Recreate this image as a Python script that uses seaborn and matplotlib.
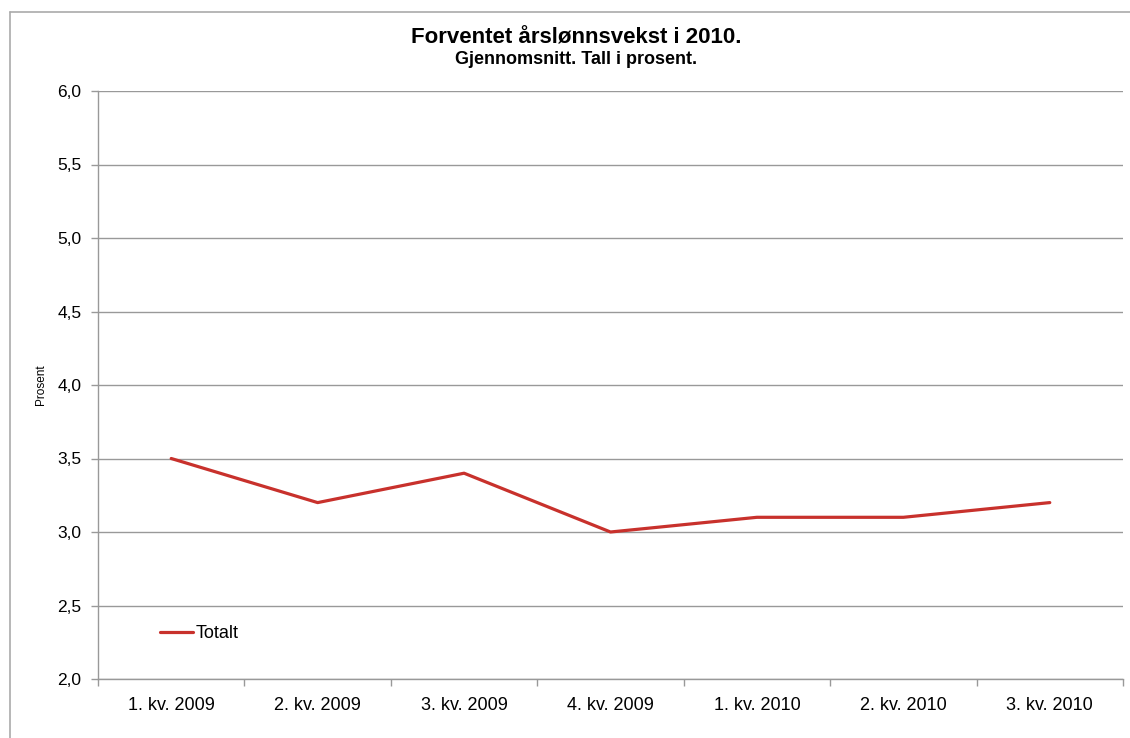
import numpy as np
import pandas as pd
import matplotlib
matplotlib.use("Agg")
import matplotlib.pyplot as plt
import seaborn as sns
from matplotlib.ticker import FixedLocator, FuncFormatter

quarters = ["1. kv. 2009", "2. kv. 2009", "3. kv. 2009", "4. kv. 2009",
            "1. kv. 2010", "2. kv. 2010", "3. kv. 2010"]
totalt = [3.5, 3.2, 3.4, 3.0, 3.1, 3.1, 3.2]
y_ticks = [2.0, 2.5, 3.0, 3.5, 4.0, 4.5, 5.0, 5.5, 6.0]

sns.set_style("white")
plt.rcParams["font.family"] = ["Liberation Sans", "DejaVu Sans"]
plt.rcParams["text.color"] = "black"

df = pd.DataFrame({"pos": np.arange(len(quarters)), "verdi": totalt})

fig = plt.figure(figsize=(11.3, 7.38), dpi=100)
ax = fig.add_axes([98 / 1130, 1 - 679 / 738, 1025 / 1130, 588 / 738])

sns.lineplot(data=df, x="pos", y="verdi", ax=ax, color="#C8312C",
             linewidth=2.3, label="Totalt")

ax.set_xlim(-0.5, len(quarters) - 0.5)
ax.set_ylim(2.0, 6.0)
ax.set_yticks(y_ticks)
ax.yaxis.set_major_formatter(FuncFormatter(lambda v, p: f"{v:.1f}".replace(".", ",")))
ax.yaxis.grid(True, color="#999999", linewidth=1.0)
ax.xaxis.grid(False)

ax.set_xticks(range(len(quarters)))
ax.set_xticklabels(quarters)
ax.xaxis.set_minor_locator(FixedLocator(np.arange(-0.5, len(quarters), 1.0)))
ax.tick_params(axis="x", which="major", length=0, pad=13, labelsize=13, labelcolor="black")
ax.tick_params(axis="x", which="minor", length=5, width=1, color="#999999", bottom=True)
ax.tick_params(axis="y", length=5, width=1, color="#999999", left=True, pad=7,
               labelsize=12.5, labelcolor="black")

for side in ["top", "right"]:
    ax.spines[side].set_visible(False)
for side in ["left", "bottom"]:
    ax.spines[side].set_color("#999999")
    ax.spines[side].set_linewidth(1.0)

ax.set_xlabel("")
ax.set_ylabel("Prosent", fontsize=8.5, labelpad=7, color="black")

leg = ax.legend(loc="lower left", bbox_to_anchor=(0.045, 0.035), frameon=False,
                fontsize=13, handlelength=1.8, handletextpad=0.15)

fig.text(576 / 1130, 1 - 38 / 738, "Forventet årslønnsvekst i 2010.", ha="center",
         va="center", fontsize=16, fontweight="bold", color="black")
fig.text(576 / 1130, 1 - 60 / 738, "Gjennomsnitt. Tall i prosent.", ha="center",
         va="center", fontsize=13, fontweight="bold", color="black")

# outer chart frame (only top/left visible in the crop)
fig.add_artist(plt.Line2D([10 / 1130, 1.0], [1 - 12 / 738] * 2, color="#aaaaaa", linewidth=1.2))
fig.add_artist(plt.Line2D([10 / 1130] * 2, [0.0, 1 - 12 / 738], color="#aaaaaa", linewidth=1.2))

plt.savefig("out.png", dpi=100)
plt.close()
